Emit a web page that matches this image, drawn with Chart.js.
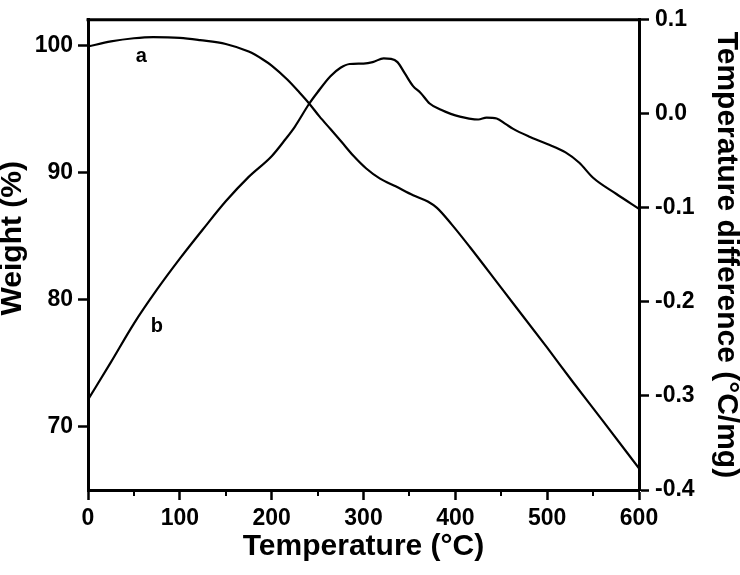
<!DOCTYPE html>
<html>
<head>
<meta charset="utf-8">
<script src="https://cdn.jsdelivr.net/npm/chart.js@4/dist/chart.umd.min.js"></script>
<style>
  html, body { margin: 0; padding: 0; background: #fff; }
  #wrap { width: 740px; height: 575px; }
</style>
</head>
<body>
<div id="wrap"><canvas id="chart" width="740" height="575"></canvas></div>
<script>
    // curve a: weight loss (left axis)
    var tempA = [0, 25, 50, 71, 100, 122, 150, 175, 190, 200, 217, 230, 241, 252, 264, 276, 289, 303, 318, 335, 354, 370, 380, 396, 416, 450, 500, 528, 560, 600];
    var weightA = [99.9, 100.3, 100.55, 100.64, 100.58, 100.4, 100.1, 99.5, 98.9, 98.4, 97.3, 96.3, 95.4, 94.4, 93.4, 92.4, 91.3, 90.3, 89.5, 88.9, 88.2, 87.7, 87.2, 85.9, 84.1, 80.9, 76.2, 73.5, 70.5, 66.7];

    // curve b: temperature difference (right axis)
    var tempB = [0, 25, 50, 75, 100, 125, 150, 175, 200, 215, 225, 241, 250, 264, 275, 285, 300, 310, 322, 330, 337, 345, 354, 362, 372, 385, 395, 405, 415, 425, 434, 445, 455, 463, 480, 500, 520, 535, 550, 575, 600];
    var diffB = [-0.304, -0.264, -0.223, -0.187, -0.154, -0.123, -0.093, -0.067, -0.045, -0.027, -0.014, 0.011, 0.023, 0.040, 0.049, 0.053, 0.0535, 0.055, 0.059, 0.0585, 0.055, 0.043, 0.0295, 0.0225, 0.011, 0.004, 0.000, -0.003, -0.005, -0.006, -0.004, -0.005, -0.011, -0.016, -0.024, -0.032, -0.041, -0.052, -0.068, -0.085, -0.101];

    // axis ticks
    var tempTicks = [0, 100, 200, 300, 400, 500, 600];
    var tempMinorTicks = [50, 150, 250, 350, 450, 550];
    var weightTicks = [70, 80, 90, 100];
    var diffTicks = [-0.4, -0.3, -0.2, -0.1, 0.0, 0.1];

    // curve labels
    var curveNames = ['a', 'b'];
    var curveNameTemp = [58, 75];
    var curveNameWeight = [99.1, 77.9];

    var FONT = "'Liberation Sans', Arial, sans-serif";

    function toPoints(xs, ys) {
        return xs.map(function (x, i) { return { x: x, y: ys[i] }; });
    }

    function fixedTicks(values) {
        return function (scale) {
            scale.ticks = values.map(function (v) { return { value: v }; });
        };
    }

    var frameAndLabels = {
        id: 'frameAndLabels',
        afterDraw: function (chart) {
            var ctx = chart.ctx;
            var area = chart.chartArea;
            var x = chart.scales.x;
            var y = chart.scales.y;
            ctx.save();
            ctx.strokeStyle = '#000';
            // top frame line
            ctx.lineWidth = 3;
            ctx.beginPath();
            ctx.moveTo(area.left - 1.5, area.top);
            ctx.lineTo(area.right + 1.5, area.top);
            ctx.stroke();
            // minor ticks on temperature axis
            ctx.lineWidth = 2;
            tempMinorTicks.forEach(function (v) {
                var px = Math.round(x.getPixelForValue(v));
                ctx.beginPath();
                ctx.moveTo(px, area.bottom);
                ctx.lineTo(px, area.bottom + 6);
                ctx.stroke();
            });
            // curve names
            ctx.fillStyle = '#000';
            ctx.font = 'bold 20px ' + FONT;
            ctx.textAlign = 'center';
            ctx.textBaseline = 'middle';
            curveNames.forEach(function (name, i) {
                ctx.fillText(name, x.getPixelForValue(curveNameTemp[i]), y.getPixelForValue(curveNameWeight[i]));
            });
            ctx.restore();
        }
    };

    var tickFont = { family: FONT, size: 23, weight: 'bold' };
    var titleFont = { family: FONT, size: 30, weight: 'bold', lineHeight: 0.85 };
    var axisGrid = { display: true, drawOnChartArea: false, drawTicks: true, tickLength: 10, tickWidth: 2.5, tickColor: '#000' };
    var axisBorder = { display: true, width: 3, color: '#000' };

    var chart = new Chart(document.getElementById('chart'), {
        type: 'line',
        data: {
            datasets: [{
                label: 'a',
                data: toPoints(tempA, weightA),
                yAxisID: 'y',
                borderColor: '#000',
                borderWidth: 2.2,
                pointRadius: 0,
                fill: false,
                cubicInterpolationMode: 'monotone'
            }, {
                label: 'b',
                data: toPoints(tempB, diffB),
                yAxisID: 'y2',
                borderColor: '#000',
                borderWidth: 2.2,
                pointRadius: 0,
                fill: false,
                cubicInterpolationMode: 'monotone'
            }]
        },
        options: {
            responsive: false,
            animation: false,
            layout: { padding: { top: 13, left: 0, right: 0, bottom: 0 } },
            plugins: { legend: { display: false }, tooltip: { enabled: false } },
            scales: {
                x: {
                    type: 'linear',
                    position: 'bottom',
                    min: 0,
                    max: 600,
                    afterBuildTicks: fixedTicks(tempTicks),
                    afterFit: function (scale) { scale.height = 85; },
                    grid: axisGrid,
                    border: axisBorder,
                    ticks: { color: '#000', font: tickFont, padding: 5, maxRotation: 0 },
                    title: { display: true, text: 'Temperature (°C)', color: '#000', font: titleFont, padding: { top: 0, bottom: 16 } }
                },
                y: {
                    type: 'linear',
                    position: 'left',
                    min: 65,
                    max: 102,
                    afterBuildTicks: fixedTicks(weightTicks),
                    afterFit: function (scale) { scale.width = 88; },
                    grid: axisGrid,
                    border: axisBorder,
                    ticks: { color: '#000', font: tickFont, padding: 5 },
                    title: { display: true, text: '    Weight (%)', color: '#000', font: titleFont, padding: 0 }
                },
                y2: {
                    type: 'linear',
                    position: 'right',
                    min: -0.4,
                    max: 0.1,
                    afterBuildTicks: fixedTicks(diffTicks),
                    afterFit: function (scale) { scale.width = 101; },
                    grid: axisGrid,
                    border: axisBorder,
                    ticks: {
                        color: '#000',
                        font: tickFont,
                        padding: 6,
                        callback: function (v) { return v.toFixed(1); }
                    },
                    title: { display: true, text: 'Temperature difference (°C/mg)', color: '#000', font: titleFont, padding: 1 }
                }
            }
        },
        plugins: [frameAndLabels]
    });
</script>
</body>
</html>
